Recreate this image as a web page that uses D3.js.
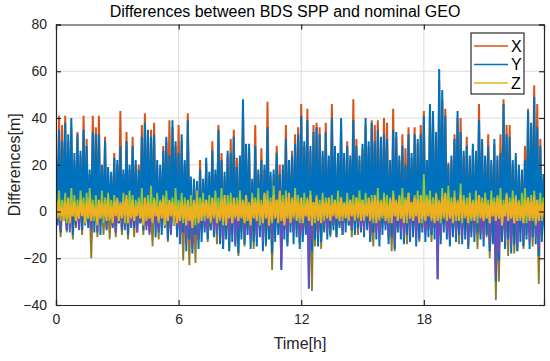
<!DOCTYPE html>
<html>
<head>
<meta charset="utf-8">
<script src="https://cdn.jsdelivr.net/npm/d3@7/dist/d3.min.js"></script>
<style>
  body { margin: 0; background: #fff; }
  svg { font-family: "Liberation Sans", Arial, sans-serif; }
</style>
</head>
<body>
<div id="chart"></div>
<script>
// --- Data ---
// one sample every 0.15 h; each sample has a high and a low excursion
const timeStep = 0.15;

const xHi = [
  24,41,37,41,30,36,22,34,24,41, 31,16,41,36,41,18,32,17,15,25,
  20,43,16,34,18,32,20,20,37,42, 33,35,38,20,18,28,30,39,36,28,
  37,30,20,42,13,12,11,22,12,21, 15,30,16,37,25,15,24,31,35,23,
  22,44,27,27,12,37,16,27,18,47, 15,16,28,20,18,37,20,26,33,36,
  46,28,44,26,37,38,36,24,38,22, 46,26,23,37,23,30,22,48,31,22,
  27,37,28,39,37,39,30,40,38,20, 44,32,22,33,27,36,23,36,29,37,
  43,20,44,40,32,56,48,44,21,22, 33,40,40,24,32,22,27,24,46,29,
  22,33,20,29,22,33,48,37,37,20, 23,18,16,28,44,36,54,46,31,14
];
const xLo = [
  -3,-5,-2,-6,-4,-3,-7,-2,-5,-4, -3,-6,-2,-5,-4,-7,-3,-2,-6,-4,
  -5,-3,-7,-4,-2,-6,-3,-5,-4,-2, -6,-3,-5,-7,-4,-2,-5,-3,-6,-4,
  -9,-5,-11,-7,-14,-6,-12,-8,-5,-7, -4,-6,-3,-8,-10,-6,-9,-5,-7,-11,
  -6,-8,-4,-9,-7,-10,-5,-8,-6,-4, -9,-7,-5,-12,-6,-8,-4,-7,-5,-9,
  -6,-4,-10,-8,-5,-7,-6,-3,-5,-4, -3,-6,-2,-5,-4,-3,-5,-6,-3,-4,
  -5,-3,-7,-4,-6,-8,-5,-3,-7,-5, -8,-4,-6,-7,-5,-6,-4,-8,-5,-3,
  -6,-4,-5,-7,-10,-6,-3,-5,-8,-4, -6,-3,-7,-5,-8,-4,-6,-3,-5,-7,
  -4,-9,-6,-12,-10,-5,-8,-4,-9,-6, -8,-5,-7,-4,-9,-3,-6,-10,-5,-3
];

const yHi = [
  28,35,30,38,33,40,25,33,26,35, 28,18,34,33,33,20,30,19,17,23,
  22,28,18,30,20,28,22,18,32,38, 35,32,33,22,20,26,32,24,39,30,
  25,33,22,39,15,14,13,18,14,23, 17,26,18,35,22,17,26,25,32,19,
  24,48,29,29,14,28,18,22,20,36, 17,18,25,16,20,31,22,24,29,33,
  41,30,39,28,34,36,33,26,34,24, 40,28,25,40,25,28,24,39,28,24,
  29,40,30,38,30,35,32,33,31,22, 35,34,24,28,20,33,25,33,31,33,
  41,22,46,43,34,61,52,41,20,24, 31,43,34,26,28,24,29,26,39,31,
  24,28,22,31,24,25,46,33,32,22, 25,20,18,22,43,38,49,36,28,16
];
const yLo = [
  -6,-9,-4,-8,-5,-10,-6,-3,-8,-5, -7,-4,-9,-6,-10,-5,-8,-4,-7,-9,
  -5,-8,-6,-10,-4,-7,-9,-5,-8,-6, -9,-5,-11,-7,-10,-6,-12,-8,-6,-11,
  -14,-9,-17,-12,-18,-10,-16,-13,-9,-12, -8,-11,-7,-14,-16,-12,-17,-13,-15,-18,
  -12,-14,-10,-16,-13,-15,-11,-17,-14,-12, -18,-13,-10,-25,-12,-15,-9,-14,-11,-16,
  -13,-10,-33,-17,-12,-15,-13,-9,-12,-10, -8,-11,-7,-10,-9,-6,-8,-10,-7,-9,
  -11,-8,-13,-9,-12,-15,-10,-8,-14,-11, -16,-9,-12,-14,-10,-13,-11,-15,-12,-9,
  -13,-11,-10,-12,-29,-14,-9,-12,-15,-11, -13,-10,-14,-12,-16,-11,-13,-9,-12,-15,
  -10,-17,-14,-30,-21,-13,-16,-12,-18,-14, -17,-13,-15,-12,-16,-11,-14,-19,-13,-10
];

const zHi = [
  3,5,2,4,6,3,4,2,5,3, 4,6,3,2,5,4,3,6,2,4,
  5,3,4,7,3,5,2,4,3,6, 4,3,5,2,4,6,3,5,4,3,
  2,4,3,5,2,4,6,3,4,5, 3,6,4,2,5,7,3,4,6,3,
  5,4,7,3,6,4,5,3,8,5, 4,7,5,9,4,6,8,5,7,4,
  6,3,5,7,4,6,3,5,4,6, 3,5,4,6,3,4,5,3,6,4,
  5,3,6,4,7,5,4,6,3,5, 7,4,6,3,5,8,4,6,5,7,
  4,6,5,3,7,4,6,8,5,4, 6,4,7,5,3,6,4,5,7,4,
  6,3,5,4,6,5,3,7,4,5, 6,4,3,5,6,4,7,5,3,4
];
const zLo = [
  -3,-2,-4,-3,-5,-2,-4,-3,-2,-5, -3,-4,-2,-6,-3,-2,-4,-3,-5,-2,
  -4,-3,-2,-5,-3,-4,-2,-3,-6,-4, -3,-5,-2,-4,-3,-6,-4,-2,-3,-5,
  -4,-3,-6,-4,-7,-3,-5,-4,-2,-3, -4,-2,-5,-3,-4,-6,-3,-5,-2,-4,
  -3,-5,-4,-6,-3,-4,-2,-5,-3,-6, -4,-3,-5,-4,-6,-3,-5,-2,-4,-3,
  -5,-2,-4,-6,-3,-4,-5,-2,-3,-4, -2,-3,-4,-2,-3,-4,-2,-3,-2,-4,
  -3,-2,-4,-3,-5,-3,-2,-4,-3,-5, -2,-4,-3,-5,-2,-3,-4,-2,-5,-3,
  -4,-2,-3,-5,-4,-3,-2,-4,-3,-5, -2,-4,-3,-2,-5,-3,-4,-2,-3,-4,
  -3,-5,-2,-4,-3,-6,-2,-4,-3,-5, -4,-3,-5,-2,-4,-3,-5,-4,-2,-3
];

// unlabelled extra traces (not in the legend)
const purpleHi = [
  3,1,4,2,5,3,2,4,1,3, 2,4,3,1,5,2,3,4,2,1,
  3,5,2,4,1,3,2,5,3,4, 2,1,3,4,2,5,3,1,4,2,
  3,2,4,1,3,5,2,4,3,1, 2,4,3,5,1,3,2,4,5,2,
  3,1,4,2,5,3,2,4,1,3, 4,2,3,5,1,4,2,3,5,2,
  3,4,1,3,2,5,3,1,4,2, 1,3,2,4,1,3,2,4,3,1,
  2,4,3,1,5,2,3,4,2,3, 5,2,3,4,1,3,5,2,4,3,
  2,4,1,3,5,2,4,3,1,4, 2,3,5,1,4,2,3,4,2,5,
  3,1,4,2,3,5,2,4,1,3, 4,2,3,5,1,3,4,2,5,3
];
const purpleLo = [
  -3,-8,-2,-7,-9,-2,-5,-8,-2,-6, -3,-8,-2,-9,-4,-2,-7,-3,-6,-9,
  -2,-5,-8,-2,-7,-3,-9,-2,-5,-8, -10,-2,-6,-9,-3,-7,-2,-10,-3,-6,
  -11,-3,-14,-8,-16,-3,-12,-4,-7,-9, -3,-8,-10,-2,-13,-4,-11,-3,-14,-8,
  -3,-10,-4,-12,-3,-11,-5,-13,-3,-7, -12,-3,-5,-24,-4,-10,-3,-9,-2,-11,
  -9,-3,-32,-12,-3,-10,-4,-6,-9,-2, -6,-3,-5,-8,-2,-5,-7,-3,-5,-7,
  -9,-3,-10,-4,-9,-12,-3,-6,-10,-3, -13,-4,-9,-11,-3,-10,-4,-12,-3,-7,
  -10,-3,-9,-4,-29,-10,-3,-9,-12,-3, -10,-4,-11,-3,-13,-4,-10,-3,-9,-12,
  -3,-14,-4,-28,-18,-3,-13,-4,-15,-3, -14,-4,-12,-3,-13,-4,-11,-16,-3,-8
];

const oliveHi = [
  1,2,0,3,1,2,1,0,2,1, 3,1,2,0,1,2,1,3,0,2,
  1,2,0,1,3,1,2,0,1,2, 1,0,2,1,3,0,2,1,0,1,
  2,1,0,2,1,3,1,0,2,1, 0,2,1,3,0,1,2,1,0,2,
  1,3,0,2,1,0,2,1,3,1, 0,2,1,0,2,1,3,0,1,2,
  1,0,2,1,3,0,1,2,1,0, 2,1,0,3,1,2,0,1,2,1,
  0,2,1,0,2,3,1,0,2,1, 3,0,1,2,1,0,2,1,3,0,
  1,2,0,1,2,1,0,3,1,2, 0,1,2,0,1,3,0,2,1,0,
  2,1,3,0,1,2,1,0,2,1, 0,2,1,3,0,1,2,0,1,2
];
const oliveLo = [
  -5,-11,-4,-9,-5,-12,-6,-4,-10,-5, -6,-20,-4,-11,-6,-10,-5,-12,-6,-11,
  -5,-10,-6,-12,-4,-11,-6,-5,-10,-6, -7,-15,-5,-12,-7,-5,-13,-8,-5,-10,
  -10,-21,-12,-23,-15,-22,-12,-9,-7,-13, -8,-6,-14,-9,-16,-9,-17,-10,-8,-19,
  -9,-15,-8,-11,-16,-9,-8,-7,-15,-10, -25,-9,-7,-10,-8,-14,-6,-9,-8,-14,
  -11,-9,-8,-34,-15,-10,-16,-8,-7,-11, -6,-11,-6,-10,-5,-6,-11,-6,-10,-5,
  -8,-6,-13,-15,-6,-9,-7,-6,-12,-17, -17,-7,-9,-8,-14,-6,-9,-8,-13,-7,
  -9,-8,-13,-7,-10,-12,-6,-8,-13,-8, -9,-14,-8,-10,-15,-9,-7,-16,-10,-8,
  -11,-20,-13,-38,-30,-12,-10,-19,-11,-18, -17,-9,-16,-10,-9,-15,-8,-31,-10,-7
];

const greenHi = [
  6,9,5,8,4,10,7,5,9,6, 8,10,5,7,4,9,6,8,5,7,
  6,4,8,5,9,7,5,6,10,4, 7,11,6,8,5,7,9,4,6,10,
  5,8,6,4,7,5,9,6,8,5, 7,4,9,6,10,5,7,8,4,6,
  9,5,7,4,8,6,10,5,7,9, 6,11,5,8,7,9,4,6,10,7,
  5,8,6,9,4,7,5,8,6,4, 7,5,9,6,4,8,5,7,6,9,
  5,8,4,7,6,10,5,8,7,6, 9,5,7,10,6,8,4,7,9,5,
  16,7,9,6,8,5,10,7,11,6, 9,5,12,7,6,8,5,9,7,6,
  8,5,9,6,7,10,5,8,6,9, 7,5,8,10,6,7,9,5,8,6
];
const greenLo = [
  -2,-4,-1,-5,-3,-2,-4,-3,-1,-5, -3,-2,-4,-1,-3,-5,-2,-4,-3,-1,
  -4,-2,-5,-3,-2,-4,-1,-3,-5,-2, -3,-4,-2,-5,-1,-3,-4,-2,-6,-3,
  -2,-5,-3,-4,-2,-6,-3,-1,-4,-2, -5,-3,-2,-4,-6,-3,-2,-5,-3,-4,
  -2,-4,-3,-5,-2,-3,-6,-4,-2,-3, -5,-2,-4,-3,-5,-2,-4,-3,-2,-5,
  -3,-2,-4,-3,-5,-2,-3,-4,-2,-3, -1,-3,-2,-4,-1,-3,-2,-4,-3,-2,
  -4,-2,-3,-5,-2,-4,-3,-2,-5,-3, -2,-4,-3,-2,-5,-3,-4,-2,-3,-5,
  -3,-2,-4,-3,-2,-5,-3,-4,-2,-3, -4,-2,-5,-3,-2,-4,-3,-5,-2,-4,
  -3,-5,-2,-4,-3,-6,-2,-4,-3,-5, -2,-4,-3,-5,-2,-4,-6,-3,-4,-2
];

const xTicks = [0, 6, 12, 18];
const yTicks = [-40, -20, 0, 20, 40, 60, 80];
const legendNames = ["X", "Y", "Z"];

// draw order: first drawn ends up underneath
const series = [
  { name: "X", hi: xHi, lo: xLo, color: "#D95319", w: 2 },
  { name: "o", hi: oliveHi, lo: oliveLo, color: "#8E7B22", w: 1.8 },
  { name: "Y", hi: yHi, lo: yLo, color: "#0072BD", w: 2 },
  { name: "p", hi: purpleHi, lo: purpleLo, color: "#6A4DC4", w: 1.8 },
  { name: "g", hi: greenHi, lo: greenLo, color: "#8CC63A", w: 1.8 },
  { name: "Z", hi: zHi, lo: zLo, color: "#EDB120", w: 2 }
];

// --- Setup ---
const width = 550, height = 361;
const margin = { top: 24.5, right: 6, bottom: 56, left: 56 };
const innerW = width - margin.left - margin.right;
const innerH = height - margin.top - margin.bottom;

const svg = d3.select("#chart").append("svg")
  .attr("width", width)
  .attr("height", height);

const x = d3.scaleLinear().domain([0, 23.88]).range([margin.left, width - margin.right]);
const y = d3.scaleLinear().domain([-40, 80]).range([height - margin.bottom, margin.top]);

svg.append("defs").append("clipPath").attr("id", "plot-clip")
  .append("rect")
  .attr("x", margin.left).attr("y", margin.top)
  .attr("width", innerW).attr("height", innerH);

// grid
const grid = svg.append("g").attr("class", "grid");
grid.selectAll("line.gx").data(xTicks.filter(t => t > 0)).enter().append("line")
  .attr("x1", d => x(d)).attr("x2", d => x(d))
  .attr("y1", margin.top).attr("y2", height - margin.bottom)
  .attr("stroke", "#dcdcdc").attr("stroke-width", 1);
grid.selectAll("line.gy").data(yTicks.slice(1, -1)).enter().append("line")
  .attr("x1", margin.left).attr("x2", width - margin.right)
  .attr("y1", d => y(d)).attr("y2", d => y(d))
  .attr("stroke", "#dcdcdc").attr("stroke-width", 1);

// traces: each sample goes up to its high then down to its low
const line = d3.line()
  .x(d => x(d[0]))
  .y(d => y(d[1]));

const traces = svg.append("g").attr("clip-path", "url(#plot-clip)");
series.forEach(s => {
  const pts = [];
  s.hi.forEach((h, i) => {
    pts.push([i * timeStep, h]);
    pts.push([i * timeStep + timeStep / 2, s.lo[i]]);
  });
  traces.append("path")
    .datum(pts)
    .attr("fill", "none")
    .attr("stroke", s.color)
    .attr("stroke-width", s.w)
    .attr("stroke-linejoin", "bevel")
    .attr("d", line);
});

// axes (MATLAB box with inward ticks)
const axisColor = "#262626";
const tickFont = "14px";

const gx = svg.append("g")
  .attr("transform", `translate(0,${height - margin.bottom})`)
  .call(d3.axisBottom(x).tickValues(xTicks).tickSize(-5).tickPadding(9).tickFormat(d3.format("d")));
const gxTop = svg.append("g")
  .attr("transform", `translate(0,${margin.top})`)
  .call(d3.axisTop(x).tickValues(xTicks).tickSize(-5).tickFormat(""));
const gy = svg.append("g")
  .attr("transform", `translate(${margin.left},0)`)
  .call(d3.axisLeft(y).tickValues(yTicks).tickSize(-5).tickPadding(9).tickFormat(d3.format("d")));
const gyRight = svg.append("g")
  .attr("transform", `translate(${width - margin.right},0)`)
  .call(d3.axisRight(y).tickValues(yTicks).tickSize(-5).tickFormat(""));

[gx, gxTop, gy, gyRight].forEach(g => {
  g.select(".domain").attr("stroke", axisColor).attr("stroke-width", 1.2);
  g.selectAll(".tick line").attr("stroke", axisColor).attr("stroke-width", 1.2);
  g.selectAll("text")
    .attr("fill", axisColor)
    .style("font-size", tickFont)
    .style("font-family", "Liberation Sans, Arial, sans-serif");
});

// labels
svg.append("text")
  .attr("x", 285).attr("y", 17)
  .attr("text-anchor", "middle")
  .style("font-size", "16px")
  .attr("fill", "#000")
  .text("Differences between BDS SPP and nominal GEO");

svg.append("text")
  .attr("x", 300).attr("y", 349)
  .attr("text-anchor", "middle")
  .style("font-size", "16px")
  .attr("fill", axisColor)
  .text("Time[h]");

svg.append("text")
  .attr("transform", `translate(20,${(margin.top + height - margin.bottom) / 2}) rotate(-90)`)
  .attr("text-anchor", "middle")
  .style("font-size", "16px")
  .attr("fill", axisColor)
  .text("Differences[m]");

// legend
const legend = svg.append("g").attr("transform", "translate(471,33)");
legend.append("rect")
  .attr("width", 53).attr("height", 61)
  .attr("fill", "#fff")
  .attr("stroke", "#000").attr("stroke-width", 1);
legendNames.forEach((name, i) => {
  const s = series.find(d => d.name === name);
  const ly = 13 + i * 18.5;
  legend.append("line")
    .attr("x1", 3).attr("x2", 37)
    .attr("y1", ly).attr("y2", ly)
    .attr("stroke", s.color).attr("stroke-width", 1.5);
  legend.append("text")
    .attr("x", 40).attr("y", ly + 5.5)
    .style("font-size", "16px")
    .attr("fill", "#000")
    .text(name);
});
</script>
</body>
</html>
